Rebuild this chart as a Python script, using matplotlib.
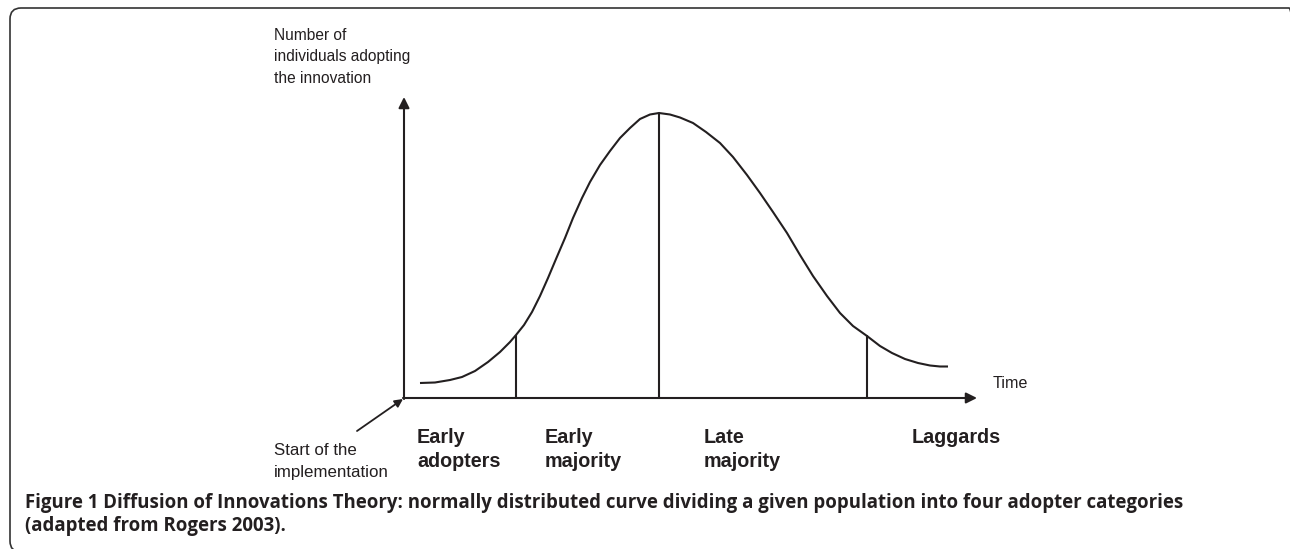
import numpy as np
import matplotlib
matplotlib.use('Agg')
import matplotlib.pyplot as plt
from matplotlib.patches import FancyBboxPatch

# curve (time from origin, number of adopters)
time_pts = [16, 31, 46, 58, 71, 84, 96, 106, 112, 120, 128, 136, 144, 152,
            161, 169, 178, 186, 196, 206, 216, 226, 236, 246, 255, 266, 276,
            289, 302, 316, 329, 343, 356, 369, 383, 396, 409, 423, 436, 449,
            463, 476, 488, 501, 514, 526, 536, 544]
adopters = [15, 15.5, 18, 21, 27, 36, 46, 56, 63, 73, 86, 102, 120, 139,
            160, 180, 200, 216, 233, 247, 260, 270, 279, 283.5, 285, 283.5,
            280.5, 275, 266, 255, 241, 223, 205, 186, 165, 143, 122, 102,
            85, 72, 62, 52, 45, 39, 35, 32.5, 31.5, 31.5]

# category dividers
divider_t = [112, 255, 463]
divider_top = [63, 285, 63]

categories = [['Early', 'adopters'], ['Early', 'majority'],
              ['Late', 'majority'], ['Laggards']]
category_t = [13, 141, 300, 508]

ink = '#231f20'
plt.rcParams['font.family'] = ['Liberation Sans', 'DejaVu Sans']

fig = plt.figure(figsize=(12.9, 5.49), dpi=100)
ax = fig.add_axes([0, 0, 1, 1])
ax.set_xlim(-404, 886)
ax.set_ylim(-151, 398)
ax.axis('off')

# rounded frame (right and bottom edges run off the picture)
frame = FancyBboxPatch((-394, -154), 1290, 544,
                       boxstyle='round,pad=0,rounding_size=11',
                       fc='none', ec='#333333', lw=1.2)
ax.add_patch(frame)

# axes with arrows
ax.annotate('', xy=(0, 301), xytext=(0, -1),
            arrowprops=dict(arrowstyle='-|>', lw=1.5, color=ink,
                            mutation_scale=16, shrinkA=0, shrinkB=0))
ax.annotate('', xy=(573, 0), xytext=(-1, 0),
            arrowprops=dict(arrowstyle='-|>', lw=1.5, color=ink,
                            mutation_scale=16, shrinkA=0, shrinkB=0))

ax.plot(time_pts, adopters, color=ink, lw=1.5, solid_capstyle='butt')
ax.vlines(divider_t, 0, divider_top, color=ink, lw=1.5)

# y axis label
for i, line in enumerate(['Number of', 'individuals adopting', 'the innovation']):
    ax.text(-130, 358 - 21.5 * i, line, fontsize=11.2, color=ink,
            va='baseline', ha='left')
ax.text(589, 15, 'Time', fontsize=11.6, color=ink, va='center', ha='left')

# start marker
ax.annotate('', xy=(-1, -1), xytext=(-47, -33),
            arrowprops=dict(arrowstyle='-|>', lw=1.3, color=ink,
                            mutation_scale=12, shrinkA=0, shrinkB=0))
for i, line in enumerate(['Start of the', 'implementation']):
    ax.text(-130, -57 - 21.5 * i, line, fontsize=12.2, color=ink,
            va='baseline', ha='left')

for t, lab in zip(category_t, categories):
    for i, line in enumerate(lab):
        ax.text(t, -45 - 24 * i, line, fontsize=14.2, fontweight='bold',
                color=ink, va='baseline', ha='left')

cap_lines = ['Figure 1 Diffusion of Innovations Theory: normally distributed curve '
             'dividing a given population into four adopter categories',
             '(adapted from Rogers 2003).']
for i, line in enumerate(cap_lines):
    ax.text(-379, -110 - 23 * i, line, fontsize=13.4, fontweight='bold',
            color=ink, family=['Open Sans', 'DejaVu Sans'],
            va='baseline', ha='left')

fig.savefig('out.png', dpi=100)
